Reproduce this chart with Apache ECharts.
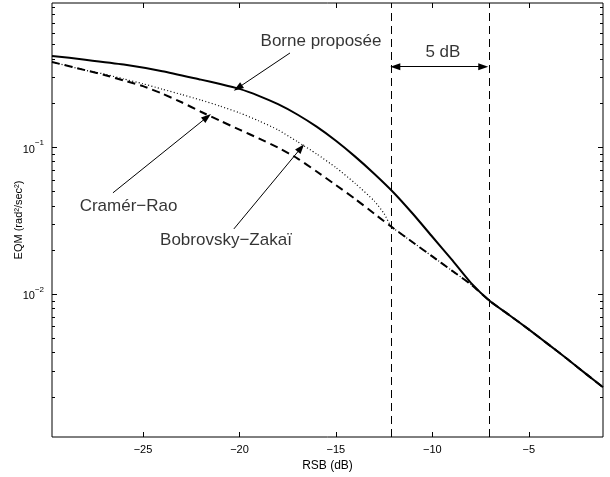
<!DOCTYPE html>
<html>
<head>
<meta charset="utf-8">
<script src="https://cdn.jsdelivr.net/npm/echarts@6/dist/echarts.min.js"></script>
<style>
  html, body { margin: 0; padding: 0; background: #fff; }
  #chart { width: 610px; height: 477px; }
</style>
</head>
<body>
<div id="chart"></div>
<script>
// ---------------- data ----------------
const snrMin = -29.72, snrMax = -1.15;
const eqmMin = 0.00106, eqmMax = 0.958;

// Borne proposée (solid)
const snrBorne = [-29.72, -28, -26, -24, -22, -21, -20, -19, -18, -17, -16, -15, -14, -13, -12, -11, -10, -9, -8, -7, -6, -5, -4, -3, -2, -1.15];
const eqmBorne = [0.418, 0.394, 0.365, 0.329, 0.288, 0.269, 0.249, 0.2234, 0.1959, 0.1667, 0.1377, 0.1104, 0.0861, 0.0656, 0.0489, 0.0350, 0.0245, 0.01718, 0.01189, 0.00891, 0.00716, 0.00573, 0.00455, 0.0036, 0.00283, 0.00231];

// Cramér–Rao (dashed)
const snrCR = [-29.72, -28, -27, -26, -25, -24, -23, -22, -21, -20, -19, -18, -17, -16, -15, -14, -13, -12, -11, -10, -9, -8, -7, -6, -5, -4, -3, -2, -1.15];
const eqmCR = [0.380, 0.334, 0.310, 0.284, 0.260, 0.231, 0.202, 0.174, 0.151, 0.1315, 0.1146, 0.0991, 0.0838, 0.0682, 0.0551, 0.0443, 0.0351, 0.0279, 0.0224, 0.0180, 0.01445, 0.01160, 0.00891, 0.00716, 0.00573, 0.00455, 0.0036, 0.00283, 0.00231];

// Bobrovsky–Zakaï (dotted)
const snrBZ = [-29.72, -28, -27, -26, -25, -24, -23, -22, -21, -20, -19, -18, -17, -16, -15, -14, -13, -12.5, -12.2, -12, -11, -10, -9, -8, -7];
const eqmBZ = [0.380, 0.334, 0.314, 0.291, 0.270, 0.248, 0.228, 0.209, 0.190, 0.171, 0.151, 0.131, 0.109, 0.0898, 0.0725, 0.0566, 0.0428, 0.0352, 0.0298, 0.0279, 0.0224, 0.0180, 0.01445, 0.01160, 0.00891];

// tick marks
const xTickVals = [-25, -20, -15, -10, -5];
const yMajorTicks = [0.01, 0.1];
const yMinorTicks = [0.002, 0.003, 0.004, 0.005, 0.006, 0.007, 0.008, 0.009,
                     0.02, 0.03, 0.04, 0.05, 0.06, 0.07, 0.08, 0.09,
                     0.2, 0.3, 0.4, 0.5, 0.6, 0.7, 0.8, 0.9];

// vertical reference lines (5 dB gap)
const markerSnr = [-12.15, -7.05];

// annotations: text [x, y, text]
const annoText = [
  [-15.77, 0.528, 'Borne proposée'],
  [-25.75, 0.0398, 'Cramér\u2212Rao'],
  [-20.70, 0.0233, 'Bobrovsky\u2212Zakaï'],
  [-9.45, 0.445, '5 dB']
];
// arrows: [x0, y0, x1(tip), y1(tip)]
const annoArrows = [
  [-17.38, 0.4375, -20.08, 0.253],
  [-26.56, 0.0488, -21.68, 0.160],
  [-20.29, 0.0277, -16.81, 0.0986]
];
// double arrow (5 dB)
const gapArrow = [-11.92, 0.353, -7.36, 0.353];

// ---------------- chart ----------------
const pairs = (xs, ys) => xs.map((x, i) => [x, ys[i]]);
const FONT = '"Liberation Sans", Arial, Helvetica, sans-serif';
const chart = echarts.init(document.getElementById('chart'), null, { renderer: 'canvas' });

function supLabel(v) {
  const e = Math.round(Math.log10(v));
  if (Math.abs(Math.log10(v) - e) > 1e-6) return '';
  if (e !== -1 && e !== -2) return '';
  return '{b|10}{s|\u2212' + Math.abs(e) + '}';
}

const arrowHead = 'path://M0,0 L3.5,10 L-3.5,10 Z';

const option = {
  animation: false,
  backgroundColor: '#fff',
  textStyle: { fontFamily: FONT },
  grid: { left: 52, right: 7, top: 3, bottom: 40, containLabel: false, outerBoundsMode: 'none',
          show: true, borderColor: '#000', borderWidth: 1, backgroundColor: 'transparent' },
  xAxis: {
    type: 'value', min: snrMin, max: snrMax, splitNumber: 6,
    name: 'RSB (dB)', nameLocation: 'middle', nameGap: 23, nameMoveOverlap: false,
    nameTextStyle: { color: '#000', fontSize: 12, fontFamily: FONT },
    axisLine: { show: false }, axisTick: { show: false }, splitLine: { show: false },
    axisLabel: {
      color: '#000', fontSize: 11, fontFamily: FONT, margin: 7,
      showMinLabel: false, showMaxLabel: false, hideOverlap: false,
      formatter: v => (xTickVals.some(t => Math.abs(t - v) < 1e-6) ? '\u2212' + Math.abs(v) : '')
    }
  },
  yAxis: {
    type: 'log', logBase: 10, min: eqmMin, max: eqmMax,
    name: 'EQM (rad²/sec²)', nameLocation: 'middle', nameGap: 28, nameRotate: 90, nameMoveOverlap: false,
    nameTextStyle: { color: '#000', fontSize: 11, fontFamily: FONT },
    axisLine: { show: false }, axisTick: { show: false }, splitLine: { show: false },
    axisLabel: {
      color: '#000', margin: 8, fontFamily: FONT,
      showMinLabel: false, showMaxLabel: false,
      formatter: supLabel,
      rich: {
        b: { fontSize: 11, color: '#000', fontFamily: FONT, lineHeight: 16, verticalAlign: 'bottom' },
        s: { fontSize: 8, color: '#000', fontFamily: FONT, lineHeight: 16, verticalAlign: 'top' }
      }
    }
  },
  series: [
    {
      name: 'Bobrovsky–Zakaï', type: 'line', data: pairs(snrBZ, eqmBZ),
      showSymbol: false, smooth: 0.2, z: 3,
      lineStyle: { color: '#000', width: 1.2, type: [1, 2.3] }
    },
    {
      name: 'Cramér–Rao', type: 'line', data: pairs(snrCR, eqmCR),
      showSymbol: false, smooth: 0.2, z: 4,
      lineStyle: { color: '#000', width: 2, type: [8, 5] }
    },
    {
      name: 'Borne proposée', type: 'line', data: pairs(snrBorne, eqmBorne),
      showSymbol: false, smooth: 0.2, z: 5,
      lineStyle: { color: '#000', width: 2 }
    },
    {
      name: 'repères', type: 'line', data: [], z: 2,
      markLine: {
        silent: true, symbol: 'none', label: { show: false },
        lineStyle: { color: '#000', width: 1, type: [8, 5] },
        data: markerSnr.map(x => ({ xAxis: x }))
      }
    },
    {
      name: 'flèches', type: 'line', data: [], z: 6,
      markLine: {
        silent: true, label: { show: false },
        symbol: ['none', arrowHead], symbolSize: 10, symbolKeepAspect: true,
        lineStyle: { color: '#000', width: 1, type: 'solid' },
        data: annoArrows.map(a => [
          { coord: [a[0], a[1]], symbol: 'none' },
          { coord: [a[2], a[3]], symbol: arrowHead, symbolSize: 10 }
        ]).concat([[
          { coord: [gapArrow[0], gapArrow[1]], symbol: arrowHead, symbolSize: 10 },
          { coord: [gapArrow[2], gapArrow[3]], symbol: arrowHead, symbolSize: 10 }
        ]])
      }
    },
    {
      name: 'textes', type: 'scatter', z: 7, symbolSize: 0,
      data: annoText.map(a => ({ value: [a[0], a[1]], name: a[2] })),
      label: {
        show: true, position: 'inside', color: '#000', fontSize: 17, fontFamily: FONT,
        formatter: p => p.name
      }
    },
    {
      name: 'ticksY', type: 'custom', z: 8, silent: true,
      data: yMajorTicks.map(v => [snrMin, v, 1]).concat(yMinorTicks.map(v => [snrMin, v, 0])),
      renderItem: (params, api) => {
        const cs = params.coordSys;
        const y = Math.round(api.coord([snrMin, api.value(1)])[1]) + 0.5;
        const len = api.value(2) ? 5 : 3;
        const st = { stroke: '#000', lineWidth: 1 };
        return { type: 'group', children: [
          { type: 'line', shape: { x1: cs.x, y1: y, x2: cs.x + len, y2: y }, style: st },
          { type: 'line', shape: { x1: cs.x + cs.width - len, y1: y, x2: cs.x + cs.width, y2: y }, style: st }
        ] };
      }
    },
    {
      name: 'ticksX', type: 'custom', z: 8, silent: true,
      data: xTickVals.map(v => [v, eqmMin]),
      renderItem: (params, api) => {
        const cs = params.coordSys;
        const x = Math.round(api.coord([api.value(0), eqmMin])[0]) + 0.5;
        const len = 5;
        const st = { stroke: '#000', lineWidth: 1 };
        return { type: 'group', children: [
          { type: 'line', shape: { x1: x, y1: cs.y + cs.height, x2: x, y2: cs.y + cs.height - len }, style: st },
          { type: 'line', shape: { x1: x, y1: cs.y, x2: x, y2: cs.y + len }, style: st }
        ] };
      }
    }
  ]
};
chart.setOption(option);
</script>
</body>
</html>
